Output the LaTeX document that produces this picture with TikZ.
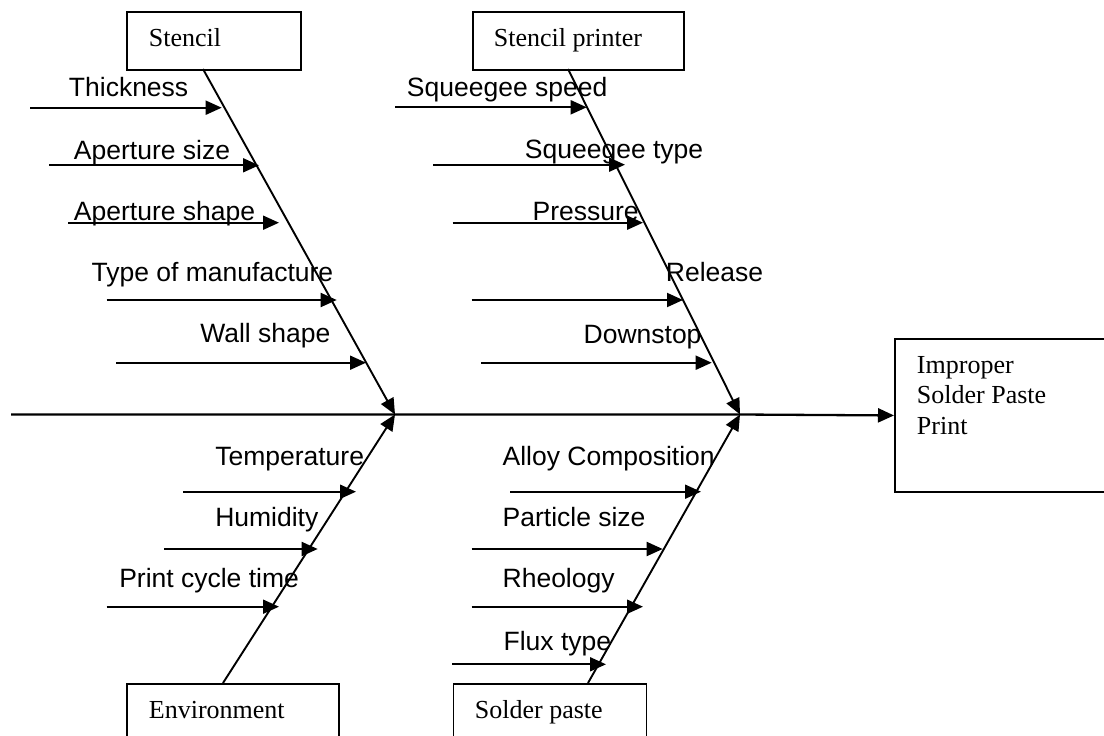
\documentclass[tikz,border=0pt]{standalone}
\usepackage{fontspec}
\setmainfont{Liberation Serif}
\newfontfamily\arialf{Liberation Sans}
\usetikzlibrary{arrows.meta}
\begin{document}
\begin{tikzpicture}[x=1pt,y=-1pt,line width=1.9pt,
  tip/.style={-{Triangle[length=16pt,width=14pt]}},
  box/.style={draw,line width=1.9pt,inner sep=0,anchor=north west},
  cause/.style={font=\arialf\fontsize{26.5}{30}\selectfont,anchor=base west,inner sep=0},
  cat/.style={font=\fontsize{26}{30}\selectfont,anchor=base west,inner sep=0}]
\useasboundingbox (0,0) rectangle (1104,736);
% boxes
\node[box,minimum width=174pt,minimum height=58pt] (stencil) at (126,11) {};
\node[box,minimum width=211pt,minimum height=58pt] (printer) at (472,11) {};
\node[box,minimum width=212pt,minimum height=80pt] (env) at (126,683) {};
\node[box,minimum width=193pt,minimum height=80pt] (paste) at (452.5,683) {};
\node[box,minimum width=240pt,minimum height=153pt] (effect) at (894,338) {};
% box texts
\node[cat] (stencilT) at (148,46) {Stencil};
\node[cat] (printerT) at (493,46) {Stencil printer};
\node[cat] (envT) at (148,718) {Environment};
\node[cat] (pasteT) at (474,718) {Solder paste};
\node[cat] (effectA) at (916,373) {Improper};
\node[cat] (effectB) at (916,403.5) {Solder Paste};
\node[cat] (effectC) at (916,434) {Print};
% spine and bones
\coordinate (tail) at (11,414.5);
\coordinate (j1) at (395,414.5);
\coordinate (j2) at (740,414.5);
\coordinate (s1) at (203,69);
\coordinate (s2) at (568,69);
\coordinate (s3) at (223,683);
\coordinate (s4) at (588,683);
\draw[tip,line width=2.3pt] (tail) -- (j1) -- (j2) -- (effect.west);
\draw[tip] (s1) -- (j1);
\draw[tip] (s2) -- (j2);
\draw[tip] (s3) -- (j1);
\draw[tip] (s4) -- (j2);
% sub causes: start x / y / tip x
\foreach \n/\xa/\yy/\xb in {
  c1/30/107.7/221.7, c2/49/165.3/259, c3/68/222.7/279, c4/106.7/300/336.7, c5/116/362.7/366,
  p1/395/107.3/586.7, p2/433/164.7/625, p3/452.7/222.7/643, p4/471.7/300/683, p5/481/362.7/711.7,
  e1/183/491.7/356, e2/164/549/317.7, e3/106.7/606.7/279,
  m1/510/491.7/701, m2/471.7/549/662.7, m3/471.7/606.7/643, m4/452.3/664.3/606}{
  \coordinate (\n a) at (\xa,\yy);
  \coordinate (\n b) at (\xb,\yy);
  \draw[tip] (\n a) -- (\n b);
}
% labels
\node[cause] (l1) at (68,96.7) {Thickness};
\node[cause] (l2) at (73,159) {Aperture size};
\node[cause] (l3) at (73,220) {Aperture shape};
\node[cause] (l4) at (90.7,281.7) {Type of manufacture};
\node[cause] (l5) at (199.3,342.7) {Wall shape};
\node[cause] (l6) at (406,96.7) {Squeegee speed};
\node[cause] (l7) at (524,158.3) {Squeegee type};
\node[cause] (l8) at (531.7,220) {Pressure};
\node[cause] (l9) at (665,281.7) {Release};
\node[cause] (l10) at (582.7,343.3) {Downstop};
\node[cause] (l11) at (214.3,465) {Temperature};
\node[cause] (l12) at (214.3,526.7) {Humidity};
\node[cause] (l13) at (118.3,587.7) {Print cycle time};
\node[cause] (l14) at (501.7,465) {Alloy Composition};
\node[cause] (l15) at (501.7,526.7) {Particle size};
\node[cause] (l16) at (501.7,587.3) {Rheology};
\node[cause] (l17) at (502.7,650) {Flux type};
\end{tikzpicture}
\end{document}
